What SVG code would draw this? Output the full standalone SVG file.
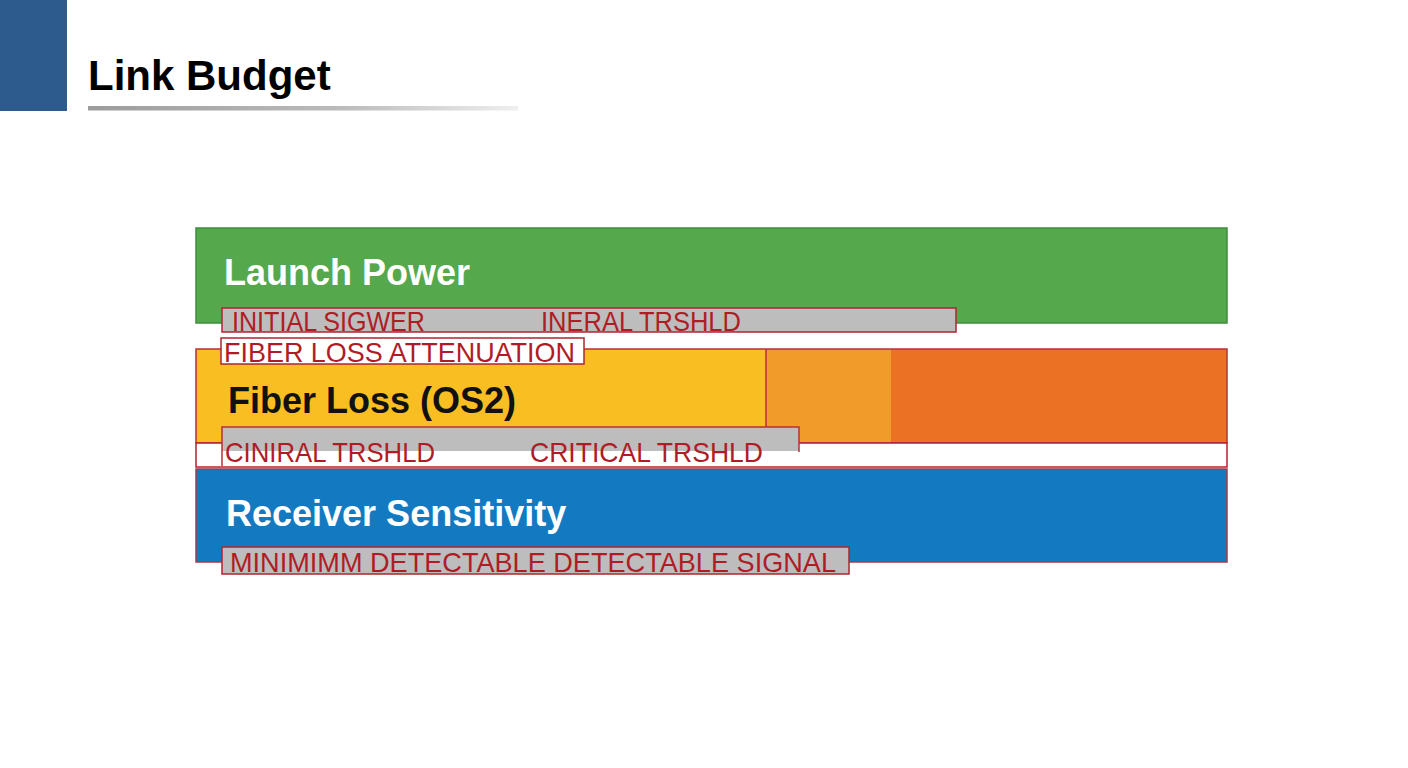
<svg xmlns="http://www.w3.org/2000/svg" width="1408" height="768" viewBox="0 0 1408 768">
<defs>
<linearGradient id="ul" x1="0" y1="0" x2="1" y2="0">
<stop offset="0" stop-color="#9c9c9c"/>
<stop offset="0.6" stop-color="#bcbcbc"/>
<stop offset="1" stop-color="#efefef"/>
</linearGradient>
<style>
.title{font-family:"Liberation Sans",Arial,sans-serif;font-weight:bold;font-size:42px;fill:#000}
.band{font-family:"Liberation Sans",Arial,sans-serif;font-weight:bold;font-size:36px}
.lbl{font-family:"Liberation Sans",Arial,sans-serif;font-size:28px;fill:#b01c26}
.gbox{fill:#bdbdbd;stroke:#b02530;stroke-width:1.5}
.wbox{fill:#ffffff;stroke:#b02530;stroke-width:1.5}
.red{stroke:#b8303a;stroke-width:1.5}
</style>
</defs>
<rect width="1408" height="768" fill="#ffffff"/>
<g id="header">
<rect x="0" y="0" width="67" height="111" fill="#2e5b8e"/>
<text class="title" x="88" y="90">Link Budget</text>
<rect x="88" y="106" width="430" height="4.5" fill="url(#ul)"/>
</g>
<g id="launch-power">
<rect x="196" y="228" width="1031" height="95" fill="#55a84b" stroke="#3f8c3c" stroke-width="1.5"/>
<text class="band" x="224" y="285" fill="#ffffff">Launch Power</text>
</g>
<g id="fiber-loss">
<rect x="196" y="349" width="570" height="94" fill="#f9be22"/>
<rect x="766" y="349" width="125" height="94" fill="#f09b2a"/>
<rect x="891" y="349" width="336" height="94" fill="#eb7225"/>
<rect x="196" y="349" width="1031" height="94" fill="none" class="red"/>
<line x1="766" y1="349" x2="766" y2="427" class="red"/>
<text class="band" x="228" y="413" fill="#111111">Fiber Loss (OS2)</text>
</g>
<g id="threshold-strip">
<rect x="196" y="443" width="1031" height="24" class="wbox"/>
</g>
<g id="receiver-sensitivity">
<rect x="196" y="469" width="1031" height="93" fill="#137ac2" stroke="#a8384a" stroke-width="1.5"/>
<text class="band" x="226" y="526" fill="#ffffff">Receiver Sensitivity</text>
</g>
<g id="label-initial">
<rect x="222" y="308" width="734" height="24" class="gbox"/>
<text class="lbl" x="232" y="331" textLength="193" lengthAdjust="spacingAndGlyphs">INITIAL SIGWER</text>
<text class="lbl" x="541" y="331" textLength="200" lengthAdjust="spacingAndGlyphs">INERAL TRSHLD</text>
</g>
<g id="label-attenuation">
<rect x="221" y="338" width="363" height="26" class="wbox"/>
<text class="lbl" x="224" y="362" textLength="351" lengthAdjust="spacingAndGlyphs">FIBER LOSS ATTENUATION</text>
</g>
<g id="label-threshold">
<rect x="222" y="427" width="577" height="24" fill="#bdbdbd"/>
<path d="M222,466 V427 H799 V452" fill="none" class="red"/>
<text class="lbl" x="225" y="462" textLength="210" lengthAdjust="spacingAndGlyphs">CINIRAL TRSHLD</text>
<text class="lbl" x="530" y="462" textLength="233" lengthAdjust="spacingAndGlyphs">CRITICAL TRSHLD</text>
</g>
<g id="label-minimum">
<rect x="222" y="547" width="627" height="27" class="gbox"/>
<text class="lbl" x="230" y="572" textLength="606" lengthAdjust="spacingAndGlyphs">MINIMIMM DETECTABLE DETECTABLE SIGNAL</text>
</g>
<g id="connectors"></g>
</svg>
